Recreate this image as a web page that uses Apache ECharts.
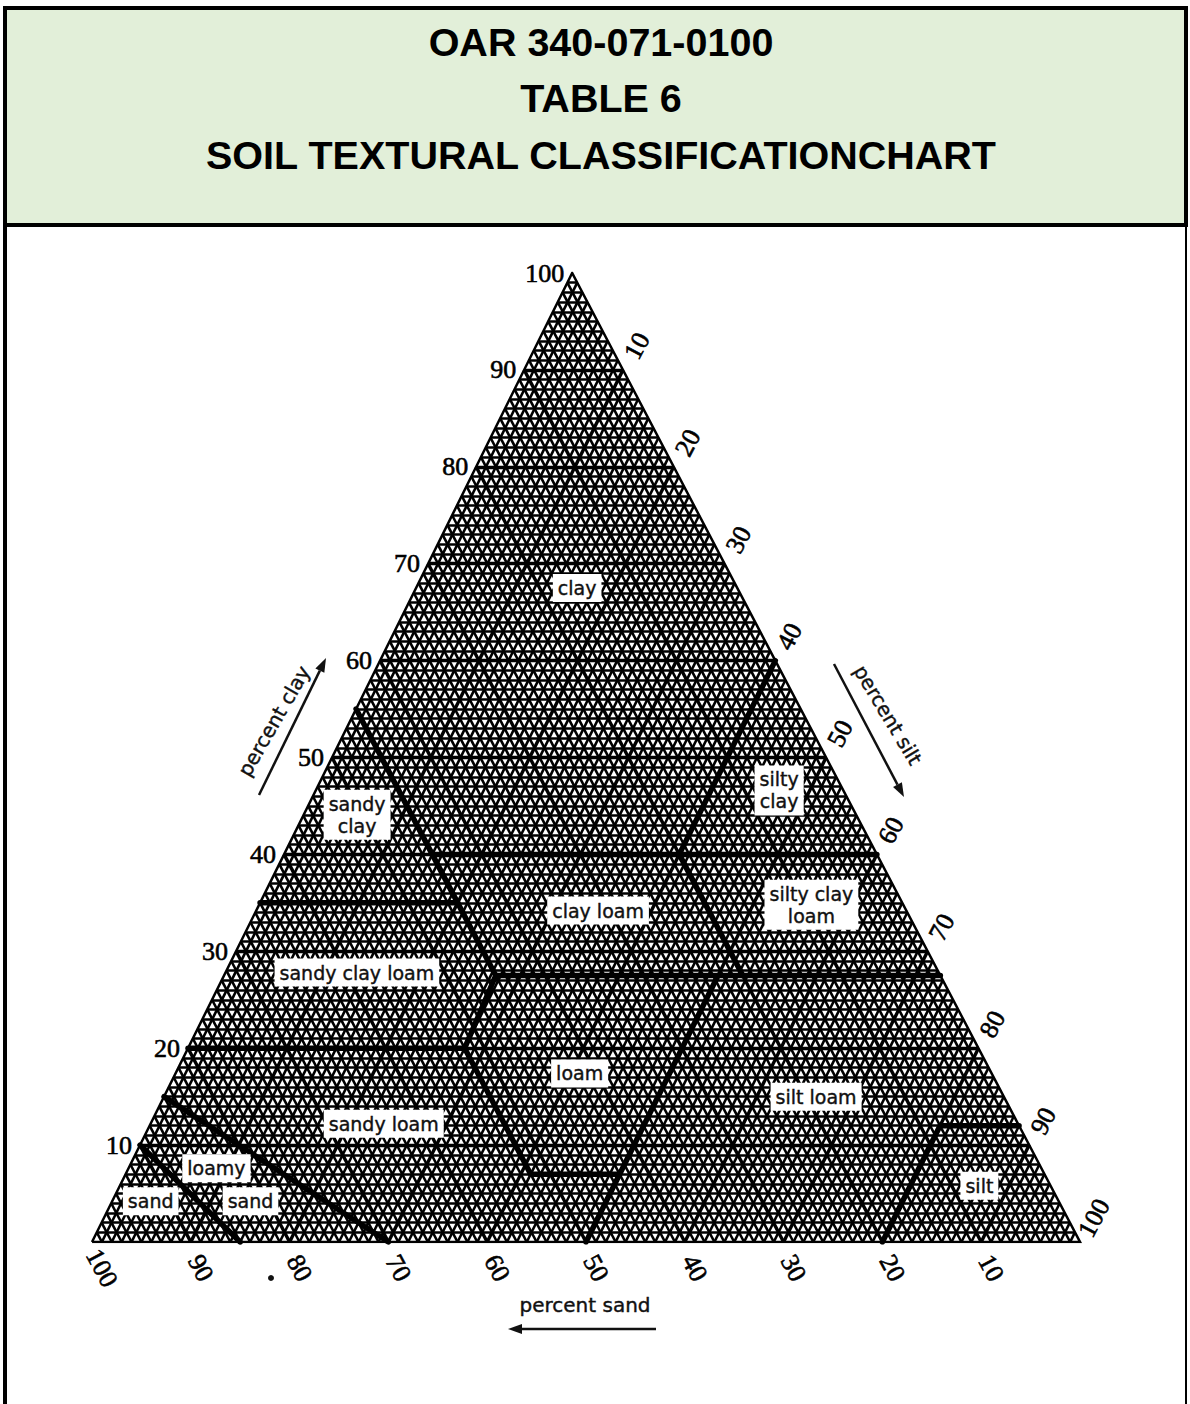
<!DOCTYPE html>
<html>
<head>
<meta charset="utf-8">
<style>
  html, body { margin: 0; padding: 0; background: #fff; }
  #chart { width: 1190px; height: 1404px; }
</style>
<script src="https://cdn.jsdelivr.net/npm/echarts/dist/echarts.min.js"></script>
</head>
<body>
<div id="chart"></div>
<script>
// ---------- data ----------
const titleLines = ['OAR 340-071-0100', 'TABLE 6', 'SOIL TEXTURAL CLASSIFICATIONCHART'];

// tick labels (percent)
const clayTicks = [10, 20, 30, 40, 50, 60, 70, 80, 90, 100];
const siltTicks = [10, 20, 30, 40, 50, 60, 70, 80, 90, 100];
const sandTicks = [100, 90, 80, 70, 60, 50, 40, 30, 20, 10];

// texture class names and label anchor compositions (sand %, clay %)
const classNames = ['clay', 'sandy\nclay', 'silty\nclay', 'clay loam', 'silty clay\nloam',
  'sandy clay loam', 'loam', 'silt loam', 'sandy loam', 'loamy', 'sand', 'sand', 'silt'];
const classSand = [16.2, 50.5, 6.5, 31.2, 9.3, 58.9, 41.7, 19.0, 64.2, 83.5, 81.8, 91.9, 7.2];
const classClay = [67.5, 44.1, 46.6, 34.2, 34.8, 27.8, 17.4, 15.0, 12.2, 7.6, 4.2, 4.2, 5.8];

// class boundaries, each a list of [sand %, clay %] vertices
const boundaryMain = [[45, 55], [45, 40], [45, 35], [45, 27.5], [52, 20], [52, 7], [43, 7], [50, 0]];
const boundaryClay35 = [[65, 35], [45, 35]];
const boundaryClay40 = [[45, 40], [0, 40]];
const boundarySilt40 = [[0, 60], [20, 40]];
const boundarySand20 = [[20, 40], [20, 27.5]];
const boundaryClay275 = [[45, 27.5], [0, 27.5]];
const boundarySilt50 = [[22.5, 27.5], [43, 7]];
const boundaryClay20 = [[80, 20], [52, 20]];
const boundaryLoamySand = [[85, 15], [70, 0]];
const boundarySand = [[90, 10], [85, 0]];
const boundarySilt = [[20, 0], [8, 12], [0, 12]];
const boundaries = [boundaryMain, boundaryClay35, boundaryClay40, boundarySilt40, boundarySand20,
  boundaryClay275, boundarySilt50, boundaryClay20, boundaryLoamySand, boundarySand, boundarySilt];

// ---------- ternary -> cartesian (apex sits slightly left of centre in the source) ----------
const APEX = 0.486;
function tern(sand, clay) {
  const silt = 100 - sand - clay;
  return [silt + APEX * clay, clay];
}

// fine triangular mesh (1 % and 10 % lines)
const meshFine = [], meshTen = [];
for (let k = 1; k < 100; k++) {
  const target = (k % 10 === 0) ? meshTen : meshFine;
  target.push({ coords: [tern(100 - k, k), tern(0, k)] });        // clay = k
  target.push({ coords: [tern(k, 0), tern(k, 100 - k)] });        // sand = k
  target.push({ coords: [tern(100 - k, 0), tern(0, 100 - k)] });  // silt = k
}

const outline = [{ coords: [tern(100, 0), tern(0, 100), tern(0, 0), tern(100, 0)] }];

const FONT_SANS = "'DejaVu Sans', sans-serif";
const FONT_NUM = "'Liberation Serif', 'DejaVu Serif', serif";
const FONT_TITLE = "bold 39.5px 'Liberation Sans', Arial, sans-serif";

const chart = echarts.init(document.getElementById('chart'), null, { renderer: 'svg' });

function arrow(x1, y1, x2, y2) {
  const dx = x2 - x1, dy = y2 - y1, len = Math.hypot(dx, dy);
  const ux = dx / len, uy = dy / len;
  const hl = 14, hw = 5;
  const bx = x2 - ux * hl, by = y2 - uy * hl;
  return [
    { type: 'line', shape: { x1: x1, y1: y1, x2: bx, y2: by }, style: { stroke: '#111', lineWidth: 2.5 } },
    { type: 'polygon', shape: { points: [[x2, y2], [bx - uy * hw, by + ux * hw], [bx + uy * hw, by - ux * hw]] },
      style: { fill: '#111' } }
  ];
}

const graphics = [
  { type: 'rect', shape: { x: 5, y: 8, width: 1181, height: 217 }, style: { fill: '#e2efd9', stroke: '#000', lineWidth: 4 }, z: 0 },
  { type: 'line', shape: { x1: 5, y1: 8, x2: 5, y2: 1404 }, style: { stroke: '#000', lineWidth: 4 } },
  { type: 'line', shape: { x1: 1186, y1: 8, x2: 1186, y2: 1404 }, style: { stroke: '#000', lineWidth: 2 } },
  { type: 'text', x: 601, y: 42, style: { text: titleLines[0], font: FONT_TITLE, fill: '#000', textAlign: 'center', textVerticalAlign: 'middle' } },
  { type: 'text', x: 601, y: 98, style: { text: titleLines[1], font: FONT_TITLE, fill: '#000', textAlign: 'center', textVerticalAlign: 'middle' } },
  { type: 'text', x: 601, y: 155, style: { text: titleLines[2], font: FONT_TITLE, fill: '#000', textAlign: 'center', textVerticalAlign: 'middle' } },
  { type: 'text', x: 274, y: 721, rotation: 60 * Math.PI / 180, style: { text: 'percent clay', font: "20px " + FONT_SANS, fill: '#111', textAlign: 'center', textVerticalAlign: 'middle', stroke: '#111', lineWidth: 0.4 } },
  { type: 'text', x: 888, y: 715, rotation: -59 * Math.PI / 180, style: { text: 'percent silt', font: "20px " + FONT_SANS, fill: '#111', textAlign: 'center', textVerticalAlign: 'middle', stroke: '#111', lineWidth: 0.4 } },
  { type: 'text', x: 585, y: 1305, style: { text: 'percent sand', font: "20px " + FONT_SANS, fill: '#111', textAlign: 'center', textVerticalAlign: 'middle', stroke: '#111', lineWidth: 0.4 } },
  ...arrow(259, 795, 326, 658),
  ...arrow(834, 664, 904, 797),
  ...arrow(656, 1329, 508, 1329),
  { type: 'circle', shape: { cx: 271, cy: 1278, r: 3 }, style: { fill: '#111' } }
];

const numLabel = { show: true, formatter: '{b}', fontFamily: FONT_NUM, fontSize: 26, color: '#000',
  textBorderColor: '#000', textBorderWidth: 0.6 };

chart.setOption({
  animation: false,
  backgroundColor: '#fff',
  grid: { left: 92, top: 273, width: 988, height: 969 },
  xAxis: { type: 'value', min: 0, max: 100, show: false },
  yAxis: { type: 'value', min: 0, max: 100, show: false },
  graphic: graphics,
  series: [
    { type: 'lines', coordinateSystem: 'cartesian2d', silent: true, z: 2,
      lineStyle: { color: '#000', width: 2.6, opacity: 1 }, data: meshFine },
    { type: 'lines', coordinateSystem: 'cartesian2d', silent: true, z: 3,
      lineStyle: { color: '#000', width: 3.4, opacity: 1 }, data: meshTen },
    { type: 'lines', coordinateSystem: 'cartesian2d', polyline: true, silent: true, z: 4,
      lineStyle: { color: '#000', width: 2.5, opacity: 1 }, data: outline },
    { type: 'lines', coordinateSystem: 'cartesian2d', polyline: true, silent: true, z: 5,
      lineStyle: { color: '#000', width: 5.5, opacity: 1, cap: 'round', join: 'round' },
      data: boundaries.map(b => ({ coords: b.map(p => tern(p[0], p[1])) })) },
    { type: 'scatter', symbolSize: 0, silent: true, z: 6, itemStyle: { opacity: 1 },
      label: { show: true, position: 'inside', formatter: '{b}', fontFamily: FONT_SANS, fontSize: 19, lineHeight: 22,
        color: '#111', backgroundColor: '#fff', padding: [3, 5], opacity: 1,
        textBorderColor: '#111', textBorderWidth: 0.4 },
      data: classNames.map((n, i) => ({ name: n, value: tern(classSand[i], classClay[i]) })) },
    { type: 'scatter', symbolSize: 0, silent: true, z: 6, itemStyle: { opacity: 1 },
      label: Object.assign({}, numLabel, { position: 'left', distance: 8 }),
      data: clayTicks.map(k => ({ name: String(k), value: tern(100 - k, k) })) },
    { type: 'scatter', symbolSize: 0, silent: true, z: 6, itemStyle: { opacity: 1 },
      label: Object.assign({}, numLabel, { position: [14, -24], align: 'center', verticalAlign: 'middle', rotate: 62 }),
      data: siltTicks.map(k => ({ name: String(k), value: tern(0, 100 - k) })) },
    { type: 'scatter', symbolSize: 0, silent: true, z: 6, itemStyle: { opacity: 1 },
      label: Object.assign({}, numLabel, { position: [10, 26], align: 'center', verticalAlign: 'middle', rotate: -62 }),
      data: sandTicks.map(k => ({ name: String(k), value: tern(k, 0) })) }
  ]
});
</script>
</body>
</html>
